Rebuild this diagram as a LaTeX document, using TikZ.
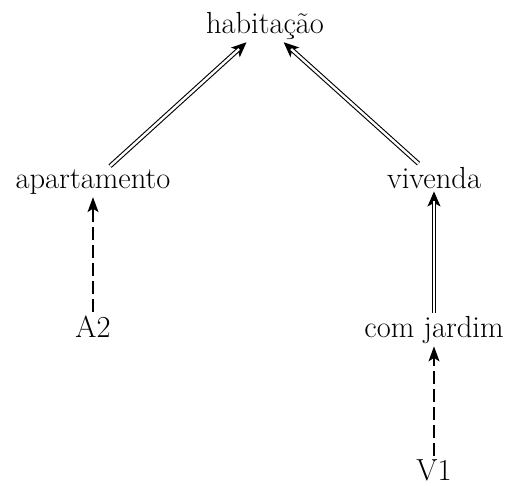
\documentclass[tikz,border=0pt]{standalone}
\usetikzlibrary{arrows.meta}
\begin{document}
\begin{tikzpicture}[x=1pt,y=-1pt,
  lbl/.style={inner sep=3pt,anchor=base,font=\fontsize{30.5}{36}\selectfont},
  isa/.style={line width=1.2pt,-{Stealth[length=15pt,width=13pt,inset=3.5pt]},
    postaction={draw,-,double,line width=1.1pt,double distance=2.4pt,shorten >=10pt}},
  inst/.style={line width=1.4pt,dash pattern=on 13pt off 5pt,-{Stealth[length=15pt,width=11pt,inset=3.5pt]}}]
\useasboundingbox (0,0) rectangle (510,485);
\node[lbl] (hab) at (265,33) {habitação};
\node[lbl] (apt) at (93,188) {apartamento};
\node[lbl] (viv) at (434,188) {vivenda};
\node[lbl] (a2) at (93,337) {A2};
\node[lbl] (cj) at (434,337) {com jardim};
\node[lbl] (v1) at (434,480) {V1};
\draw[isa] (apt) -- (hab);
\draw[isa] (viv) -- (hab);
\draw[isa] (cj) -- (viv);
\draw[inst] (a2) -- (apt);
\draw[inst] (v1) -- (cj);
\end{tikzpicture}
\end{document}
